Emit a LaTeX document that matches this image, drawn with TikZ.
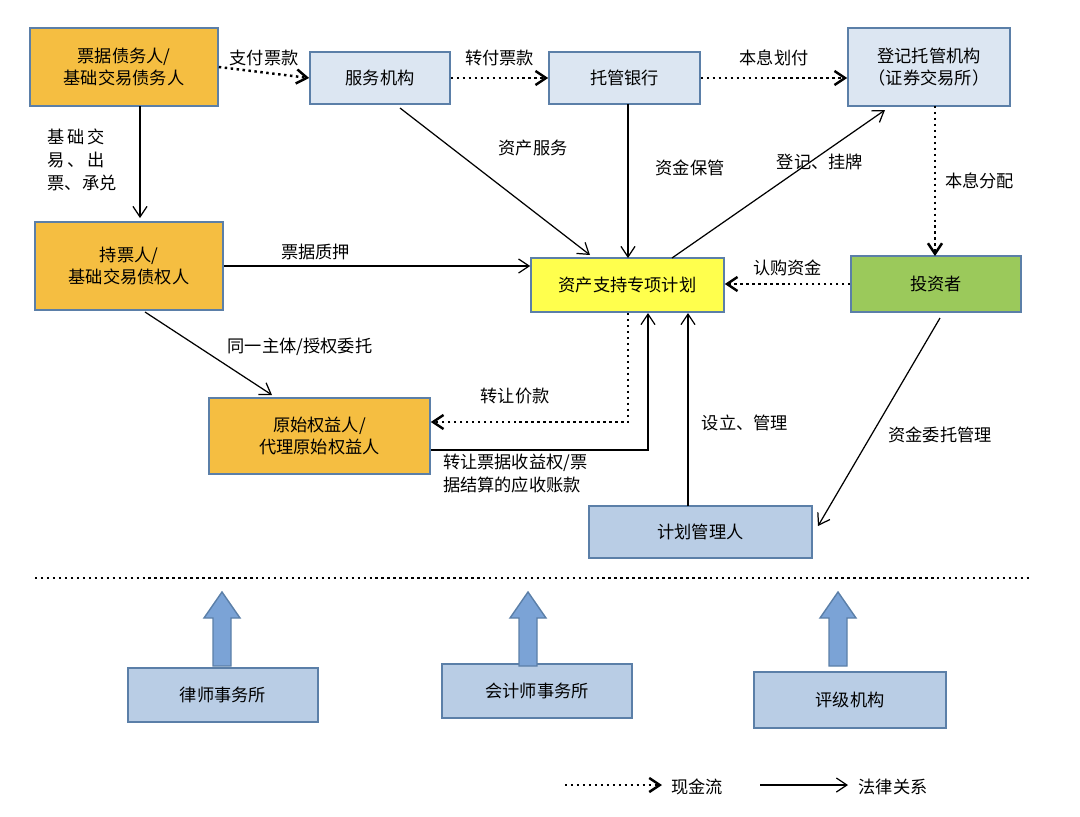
\documentclass[tikz,border=0pt]{standalone}
\usepackage{fontspec}
\setmainfont{Noto Sans CJK SC}
\usetikzlibrary{arrows.meta,shapes.arrows}
\definecolor{org}{HTML}{F5BE41}
\definecolor{lb}{HTML}{DCE6F2}
\definecolor{mb}{HTML}{B9CDE5}
\definecolor{yl}{HTML}{FFFF4D}
\definecolor{gr}{HTML}{9BC95B}
\definecolor{bd}{HTML}{5B7FA8}
\definecolor{ab}{HTML}{7BA3D6}
\begin{document}
\begin{tikzpicture}[x=0.02cm,y=-0.02cm,font=\fontsize{9.8}{13}\selectfont,
 box/.style={draw=bd,line width=0.9pt,align=center,inner sep=0pt},
 law/.style={-{Straight Barb[length=6pt,width=8pt]},line width=0.7pt},
 cash/.style={-{Straight Barb[length=6pt,width=8pt]},line width=1.4pt,dotted},
 lab/.style={inner sep=1pt,align=left}]
\useasboundingbox (0,0) rectangle (1080,816);
\def\bx#1#2#3#4#5#6#7{\node[box,fill=#6,minimum width=(#3-#1)*0.02cm,minimum height=(#4-#2)*0.02cm] (#5) at ({(#1+#3)/2},{(#2+#4)/2}) {#7};}
\bx{30}{28}{218}{106}{A}{org}{票据债务人/\\基础交易债务人}
\bx{310}{52}{450}{104}{F}{lb}{服务机构}
\bx{549}{52}{700}{104}{T}{lb}{托管银行}
\bx{848}{28}{1010}{106}{D}{lb}{登记托管机构\\（证券交易所）}
\bx{35}{222}{223}{310}{H}{org}{持票人/\\基础交易债权人}
\bx{531}{258}{724}{312}{P}{yl}{资产支持专项计划}
\bx{851}{256}{1021}{312}{I}{gr}{投资者}
\bx{209}{398}{430}{474}{O}{org}{原始权益人/\\代理原始权益人}
\bx{589}{506}{812}{558}{M}{mb}{计划管理人}
\bx{128}{668}{318}{722}{L1}{mb}{律师事务所}
\bx{442}{664}{632}{718}{L2}{mb}{会计师事务所}
\bx{754}{672}{946}{728}{L3}{mb}{评级机构}
\draw[line width=1.4pt,dotted] (35,578) -- (1030,578);
\foreach \x in {222,528,838}
 \draw[bd,fill=ab,line width=0.8pt] (\x-9,666) -- (\x-9,618) -- (\x-18,618) -- (\x,592) -- (\x+18,618) -- (\x+9,618) -- (\x+9,666) -- cycle;
\draw[cash] (A.east) -- (F.west) node[lab,midway,above=2pt]{支付票款};
\draw[cash] (F.east) -- (T.west) node[lab,midway,above=5pt]{转付票款};
\draw[cash] (T.east) -- (D.west|-T.east) node[lab,midway,above=5pt]{本息划付};
\draw[cash] (935,106) -- (935,256) node[lab,pos=0.5,right=4pt]{本息分配};
\draw[cash] (I.west) -- (P.east|-I.west) node[lab,midway,above=3pt]{认购资金};
\draw[law] (140,106) -- (140,218);
\node[lab,align=left] at (82,160) {基\,础\,交\\易\,、\,出\\票、承兑};
\draw[law] (H.east) -- (P.west|-H.east) node[lab,pos=0.3,above=2pt]{票据质押};
\draw[law] (145,312) -- (272,395);
\node[lab] at (300,347) {同一主体/授权委托};
\draw[law] (400,108) -- (590,255);
\node[lab] at (533,148) {资产服务};
\draw[law] (628,104) -- (628,258);
\node[lab] at (690,168) {资金保管};
\draw[law] (672,258) -- (885,110);
\node[lab] at (820,162) {登记、挂牌};
\draw[cash] (628,313) -- (628,422) -- (O.east|-0,422);
\node[lab] at (515,396) {转让价款};
\draw[law] (O.east|-0,450) -- (648,450) -- (648,313);
\node[lab,anchor=north west] at (441,452) {转让票据收益权/票\\据结算的应收账款};
\draw[law] (688,506) -- (688,313);
\node[lab] at (745,423) {设立、管理};
\draw[law] (940,318) -- (818,526);
\node[lab] at (940,435) {资金委托管理};
\coordinate (c1) at (565,785); \coordinate (c2) at (662,785);
\draw[cash] (c1) -- (c2);
\node[lab] at (697,787) {现金流};
\coordinate (l1) at (760,785); \coordinate (l2) at (848,785);
\draw[law] (l1) -- (l2);
\node[lab] at (893,787) {法律关系};
\end{tikzpicture}
\end{document}
